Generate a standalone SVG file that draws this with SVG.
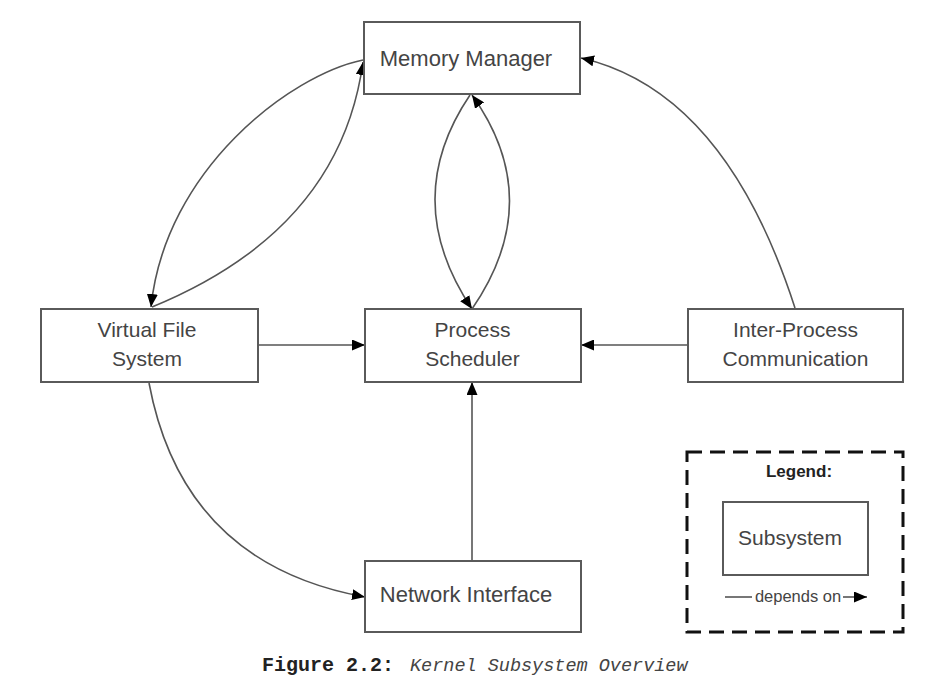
<svg xmlns="http://www.w3.org/2000/svg" width="936" height="698" viewBox="0 0 936 698">
<style>
.box{fill:#fff;stroke:#5a5a5a;stroke-width:2}
.lbl{font-family:"Liberation Sans",Arial,sans-serif;font-size:21px;fill:#444;text-anchor:middle}
.con{fill:none;stroke:#555;stroke-width:1.6}
.arr{marker-end:url(#ah)}
</style>
<defs>
<marker id="ah" markerUnits="userSpaceOnUse" markerWidth="13" markerHeight="11" refX="13" refY="5.5" orient="auto">
<path d="M0,0 L13,5.5 L0,11 z" fill="#000"/>
</marker>
</defs>
<rect width="936" height="698" fill="#fff"/>
<g id="connectors">
<path class="con arr" d="M363,60 C290,75 165,170 151,307"/>
<path class="con arr" d="M152,307 Q340,230 363,62"/>
<path class="con arr" d="M470,95 Q399,200 472,309"/>
<path class="con arr" d="M472,309 Q547,200 472,95"/>
<path class="con arr" d="M795,308 Q725,91 581,58"/>
<path class="con arr" d="M258,345 L365,345"/>
<path class="con arr" d="M688,345 L581,345"/>
<path class="con arr" d="M472,561 L472,382"/>
<path class="con arr" d="M149,383 Q183,564 365,597"/>
</g>
<g id="memory-manager">
<rect class="box" x="364" y="22" width="216" height="72"/>
<text class="lbl" x="466" y="66" style="font-size:22px">Memory Manager</text>
</g>
<g id="virtual-file-system">
<rect class="box" x="41" y="309" width="217" height="73"/>
<text class="lbl" x="147" y="337">Virtual File</text>
<text class="lbl" x="147" y="366">System</text>
</g>
<g id="process-scheduler">
<rect class="box" x="365" y="309" width="216" height="73"/>
<text class="lbl" x="472.5" y="337">Process</text>
<text class="lbl" x="472.5" y="366">Scheduler</text>
</g>
<g id="inter-process-communication">
<rect class="box" x="688" y="309" width="215" height="73"/>
<text class="lbl" x="795.5" y="337">Inter-Process</text>
<text class="lbl" x="795.5" y="366">Communication</text>
</g>
<g id="network-interface">
<rect class="box" x="365" y="561" width="216" height="71"/>
<text class="lbl" x="466" y="602" style="font-size:22px">Network Interface</text>
</g>
<g id="legend">
<rect x="687" y="452" width="216" height="180" fill="none" stroke="#111" stroke-width="3" stroke-dasharray="15 8"/>
<text x="799" y="477" style="font-family:'Liberation Sans',Arial,sans-serif;font-size:17px;font-weight:bold;fill:#222;text-anchor:middle">Legend:</text>
<rect class="box" x="723" y="502" width="145" height="73"/>
<text class="lbl" x="790" y="545">Subsystem</text>
<line class="con" x1="725" y1="597" x2="752" y2="597"/>
<text x="798" y="602" style="font-family:'Liberation Sans',Arial,sans-serif;font-size:16.5px;fill:#444;text-anchor:middle">depends on</text>
<line class="con arr" x1="843" y1="597" x2="867" y2="597"/>
</g>
<g id="caption">
<text x="262" y="671" style="font-family:'Liberation Mono','Courier New',monospace;font-size:20px;font-weight:bold;fill:#222">Figure 2.2:</text>
<text x="410" y="671" style="font-family:'Liberation Mono','Courier New',monospace;font-size:18.5px;font-style:italic;fill:#444">Kernel Subsystem Overview</text>
</g>
</svg>
